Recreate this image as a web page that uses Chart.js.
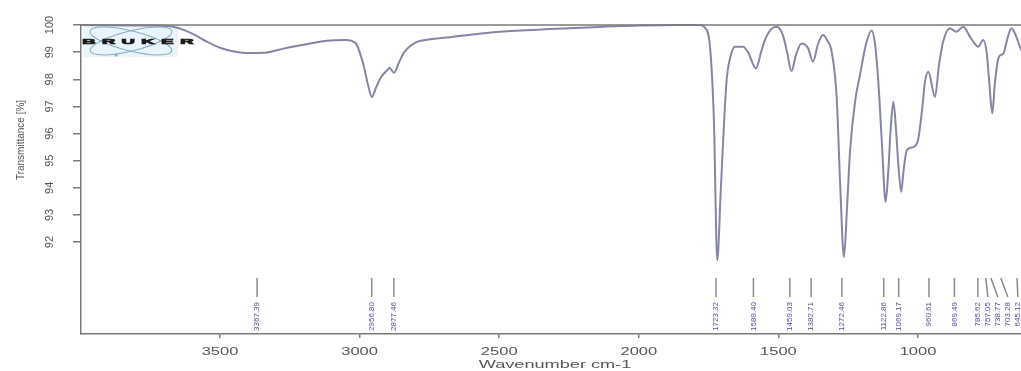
<!DOCTYPE html>
<html lang="en">
<head>
<meta charset="UTF-8">
<title>IR spectrum</title>
<script src="https://cdn.jsdelivr.net/npm/chart.js"></script>
<style>
  html, body { margin: 0; padding: 0; background: #fff; }
  #wrap { width: 1021px; height: 371px; position: relative; }
</style>
</head>
<body>
<div id="wrap"><canvas id="spectrum"></canvas></div>

<script>
// spectrum (wavenumber cm-1 / transmittance %)
const wavenumbers = [
  3998, 3751, 3679, 3607, 3554, 3500, 3450, 3410, 3339, 3285, 3213, 3117, 3052, 3016,
  2988, 2970, 2956, 2941, 2925, 2900, 2893, 2877, 2860, 2840, 2800, 2765,
  2676, 2497, 2318, 2139, 1996, 1852, 1781,
  1763, 1745, 1731, 1719, 1706, 1686, 1670, 1656, 1627, 1609, 1580, 1562, 1548,
  1526, 1506, 1484, 1469, 1453, 1437, 1417, 1394, 1376, 1358, 1340, 1326, 1309,
  1291, 1279, 1265, 1254, 1243, 1225, 1207, 1186, 1166, 1154, 1142, 1129, 1116,
  1107, 1097, 1088, 1079, 1070, 1060, 1052, 1040, 1017, 999, 985, 975, 963, 939,
  925, 910, 886, 862, 838, 814, 796, 784, 767, 754, 744, 734, 724, 712, 702,
  694, 677, 665, 649, 635, 617
];
const transmittance = [
  100.0, 99.98, 99.95, 99.72, 99.42, 99.16, 99.02, 98.97, 98.98, 99.1, 99.25, 99.42, 99.45, 99.35,
  98.6, 97.8, 97.35, 97.7, 98.05, 98.35, 98.42, 98.24, 98.6, 99.0, 99.35, 99.45,
  99.55, 99.75, 99.85, 99.93, 99.98, 100.0, 100.0,
  99.9, 99.2, 96.5, 91.33, 94.0, 97.9, 98.9, 99.2, 99.2, 99.0, 98.4, 99.0, 99.45,
  99.85, 99.94, 99.63, 99.0, 98.3, 98.9, 99.32, 99.15, 98.65, 99.3, 99.63, 99.45, 99.0,
  97.3, 94.2, 91.45, 93.3, 95.4, 97.2, 98.2, 99.3, 99.8, 99.3, 97.9, 95.6, 93.48,
  94.5, 96.3, 97.17, 96.2, 94.8, 93.85, 94.6, 95.39, 95.5, 95.8, 96.9, 97.9, 98.28, 97.35,
  98.5, 99.38, 99.88, 99.75, 99.94, 99.57, 99.3, 99.2, 99.45, 99.0, 97.8, 96.74, 97.9, 98.77, 98.9,
  98.95, 99.6, 99.88, 99.6, 99.2, 98.8
];

// peak picks printed under the spectrum
const peakLabels = [
  3367.39, 2956.80, 2877.46, 1723.32, 1589.40, 1459.03, 1382.71, 1272.46,
  1122.86, 1069.17, 960.61, 869.49, 785.62, 757.05, 738.77, 703.28, 645.12
];

const xTicks = [3500, 3000, 2500, 2000, 1500, 1000];
const yTicks = [100, 99, 98, 97, 96, 95, 94, 93, 92];

const xMin = 631, xMax = 3998;
const yMin = 88.61, yMax = 100;

const frameColor = '#7a7a7a';
const textColor = '#555';

// labels, frame, peak picks and logo
const decorPlugin = {
  id: 'decor',
  beforeDatasetsDraw(chart) {
    const ctx = chart.ctx;
    // bruker logo
    ctx.save();
    ctx.fillStyle = 'rgba(225,241,250,0.7)';
    ctx.fillRect(83, 26, 95, 31);
    ctx.strokeStyle = '#86aec4';
    ctx.lineWidth = 1.1;
    ctx.beginPath();
    ctx.ellipse(131, 41, 42, 10, 0.24, 0, Math.PI * 2);
    ctx.stroke();
    ctx.beginPath();
    ctx.ellipse(131, 41, 42, 10, -0.24, 0, Math.PI * 2);
    ctx.stroke();
    ctx.fillStyle = '#86aec4';
    ctx.beginPath();
    ctx.arc(116, 55, 1.5, 0, Math.PI * 2);
    ctx.fill();
    ctx.fillStyle = '#1a1a1a';
    ctx.strokeStyle = '#1a1a1a';
    ctx.lineWidth = 0.8;
    ctx.font = 'bold 8px "Liberation Sans"';
    ctx.textBaseline = 'middle';
    ctx.textAlign = 'center';
    'BRUKER'.split('').forEach((ch, i) => {
      ctx.save();
      ctx.translate(89 + i * 19.6, 42);
      ctx.scale(2.3, 0.85);
      ctx.fillText(ch, 0, 0);
      ctx.strokeText(ch, 0, 0);
      ctx.restore();
    });
    ctx.restore();
  },
  afterDraw(chart) {
    const ctx = chart.ctx;
    const area = chart.chartArea;
    const xs = chart.scales.x;
    const ys = chart.scales.y;
    ctx.save();

    // top frame line
    ctx.strokeStyle = frameColor;
    ctx.lineWidth = 1.5;
    ctx.beginPath();
    ctx.moveTo(area.left, area.top);
    ctx.lineTo(area.right, area.top);
    ctx.stroke();

    // x tick labels (wide print)
    ctx.fillStyle = textColor;
    ctx.font = '11px "Liberation Sans"';
    ctx.textAlign = 'center';
    ctx.textBaseline = 'middle';
    xTicks.forEach(v => {
      ctx.save();
      ctx.translate(xs.getPixelForValue(v), 352);
      ctx.scale(1.5, 1);
      ctx.fillText(String(v), 0, 0);
      ctx.restore();
    });
    ctx.save();
    ctx.translate(555, 365);
    ctx.scale(1.65, 1);
    ctx.fillText('Wavenumber cm-1', 0, 0);
    ctx.restore();

    // y tick labels, rotated
    yTicks.forEach(v => {
      ctx.save();
      ctx.translate(50, ys.getPixelForValue(v));
      ctx.rotate(-Math.PI / 2);
      ctx.fillText(String(v), 0, 0);
      ctx.restore();
    });
    ctx.save();
    ctx.translate(21, 140);
    ctx.rotate(-Math.PI / 2);
    ctx.font = '10px "Liberation Sans"';
    ctx.fillText('Transmittance [%]', 0, 0);
    ctx.restore();

    // peak picks
    let prev = -Infinity;
    ctx.font = '8px "Liberation Sans"';
    ctx.textAlign = 'right';
    peakLabels.forEach(wn => {
      const px = xs.getPixelForValue(wn);
      const lx = Math.max(px, prev + 10);
      prev = lx;
      ctx.strokeStyle = '#8a8a8a';
      ctx.lineWidth = 1.5;
      ctx.beginPath();
      ctx.moveTo(px, 278);
      ctx.lineTo(lx, 297);
      ctx.stroke();
      ctx.fillStyle = '#50509a';
      ctx.save();
      ctx.translate(lx, 302);
      ctx.rotate(-Math.PI / 2);
      ctx.fillText(wn.toFixed(2), 0, 0);
      ctx.restore();
    });
    ctx.restore();
  }
};

const points = wavenumbers.map((w, i) => ({ x: w, y: transmittance[i] }));

new Chart(document.getElementById('spectrum'), {
  type: 'line',
  data: {
    datasets: [{
      data: points,
      borderColor: '#8486a6',
      borderWidth: 2,
      pointRadius: 0,
      fill: false,
      cubicInterpolationMode: 'monotone',
      clip: false
    }]
  },
  options: {
    responsive: true,
    maintainAspectRatio: false,
    animation: false,
    events: [],
    layout: { padding: { top: 25, right: 0, left: 0, bottom: 0 } },
    plugins: {
      legend: { display: false },
      tooltip: { enabled: false }
    },
    scales: {
      x: {
        type: 'linear',
        reverse: true,
        min: xMin,
        max: xMax,
        afterBuildTicks: s => { s.ticks = xTicks.map(v => ({ value: v })); },
        afterFit: s => { s.height = 37; },
        ticks: { display: false },
        grid: { drawOnChartArea: false, drawTicks: true, tickLength: 4, color: frameColor, lineWidth: 1.5 },
        border: { color: frameColor, width: 1.5 }
      },
      y: {
        min: yMin,
        max: yMax,
        afterBuildTicks: s => { s.ticks = yTicks.map(v => ({ value: v })); },
        afterFit: s => { s.width = 81; },
        ticks: { display: false },
        grid: { drawOnChartArea: false, drawTicks: true, tickLength: 8, color: frameColor, lineWidth: 1.5 },
        border: { color: frameColor, width: 1.5 }
      }
    }
  },
  plugins: [decorPlugin]
});
</script>
</body>
</html>
